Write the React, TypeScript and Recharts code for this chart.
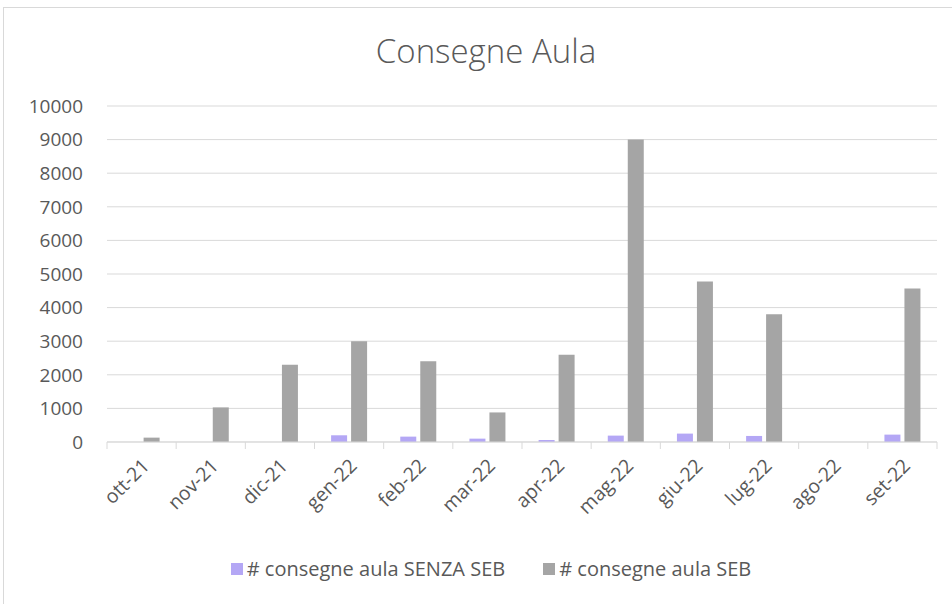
import React from "react";
import {
  BarChart,
  Bar,
  XAxis,
  YAxis,
  CartesianGrid,
  Legend,
} from "recharts";

const months = [
  "ott-21", "nov-21", "dic-21", "gen-22", "feb-22", "mar-22",
  "apr-22", "mag-22", "giu-22", "lug-22", "ago-22", "set-22",
];
const senzaSeb = [0, 0, 0, 200, 160, 100, 60, 190, 250, 180, 0, 220];
const conSeb = [130, 1030, 2300, 3000, 2400, 880, 2600, 9000, 4780, 3800, 0, 4570];
const yTicks = [0, 1000, 2000, 3000, 4000, 5000, 6000, 7000, 8000, 9000, 10000];

const data = months.map((m, i) => ({
  month: m,
  senza: senzaSeb[i],
  seb: conSeb[i],
}));

const TEXT = "#595959";
const FONT = "'Open Sans', 'Noto Sans', sans-serif";
const BAND = 830 / 12;

function MonthTick(props: any) {
  const { x, y, payload, index } = props;
  return (
    <g>
      <line x1={x - BAND / 2} y1={y - 8} x2={x - BAND / 2} y2={y - 1} stroke="#d9d9d9" />
      {index === months.length - 1 && (
        <line x1={x + BAND / 2} y1={y - 8} x2={x + BAND / 2} y2={y - 1} stroke="#d9d9d9" />
      )}
      <text
        x={x + 9}
        y={y + 17}
        transform={`rotate(-45, ${x + 9}, ${y + 17})`}
        textAnchor="end"
        fill={TEXT}
        fontSize={19.5}
        fontFamily={FONT}
      >
        {payload.value}
      </text>
    </g>
  );
}

function LegendContent() {
  const items = [
    { label: "# consegne aula SENZA SEB", color: "#b4a7f5" },
    { label: "# consegne aula SEB", color: "#a5a5a5" },
  ];
  return (
    <div style={{ display: "flex", justifyContent: "center", gap: 38, paddingLeft: 30 }}>
      {items.map((it) => (
        <div key={it.label} style={{ display: "flex", alignItems: "center", gap: 4 }}>
          <span style={{ width: 12, height: 12, background: it.color, display: "inline-block" }} />
          <span style={{ color: TEXT, fontSize: 20, fontFamily: FONT }}>{it.label}</span>
        </div>
      ))}
    </div>
  );
}

export default function App() {
  return (
    <div style={{ position: "absolute", left: 0, top: 0, width: 952, height: 604, background: "#fff" }}>
      <div
        style={{
          position: "absolute",
          left: 3,
          top: 7,
          width: 960,
          height: 610,
          border: "1px solid #d9d9d9",
        }}
      />
      <div
        style={{
          position: "absolute",
          left: 0,
          top: 28,
          width: 972,
          textAlign: "center",
          color: TEXT,
          fontSize: 33,
          fontFamily: FONT,
          fontWeight: 300,
        }}
      >
        Consegne Aula
      </div>
      <div style={{ position: "absolute", left: 0, top: 0 }}>
        <BarChart
          width={952}
          height={604}
          data={data}
          margin={{ top: 106, right: 15, bottom: 0, left: 47 }}
          barCategoryGap="24%"
          barGap={4}
        >
          <CartesianGrid vertical={false} stroke="#d9d9d9" />
          <XAxis
            dataKey="month"
            height={130}
            axisLine={{ stroke: "#d9d9d9" }}
            tickLine={false}
            interval={0}
            tick={<MonthTick />}
          />
          <YAxis
            width={60}
            domain={[0, 10000]}
            ticks={yTicks}
            interval={0}
            axisLine={false}
            tickLine={false}
            tickSize={0}
            tickMargin={24}
            tick={{ fill: TEXT, fontSize: 19, fontFamily: FONT }}
          />
          <Legend
            verticalAlign="bottom"
            height={32}
            content={<LegendContent />}
            wrapperStyle={{ top: 555, left: 0, width: 952 }}
          />
          <Bar dataKey="senza" fill="#b4a7f5" isAnimationActive={false} />
          <Bar dataKey="seb" fill="#a5a5a5" isAnimationActive={false} />
        </BarChart>
      </div>
    </div>
  );
}
